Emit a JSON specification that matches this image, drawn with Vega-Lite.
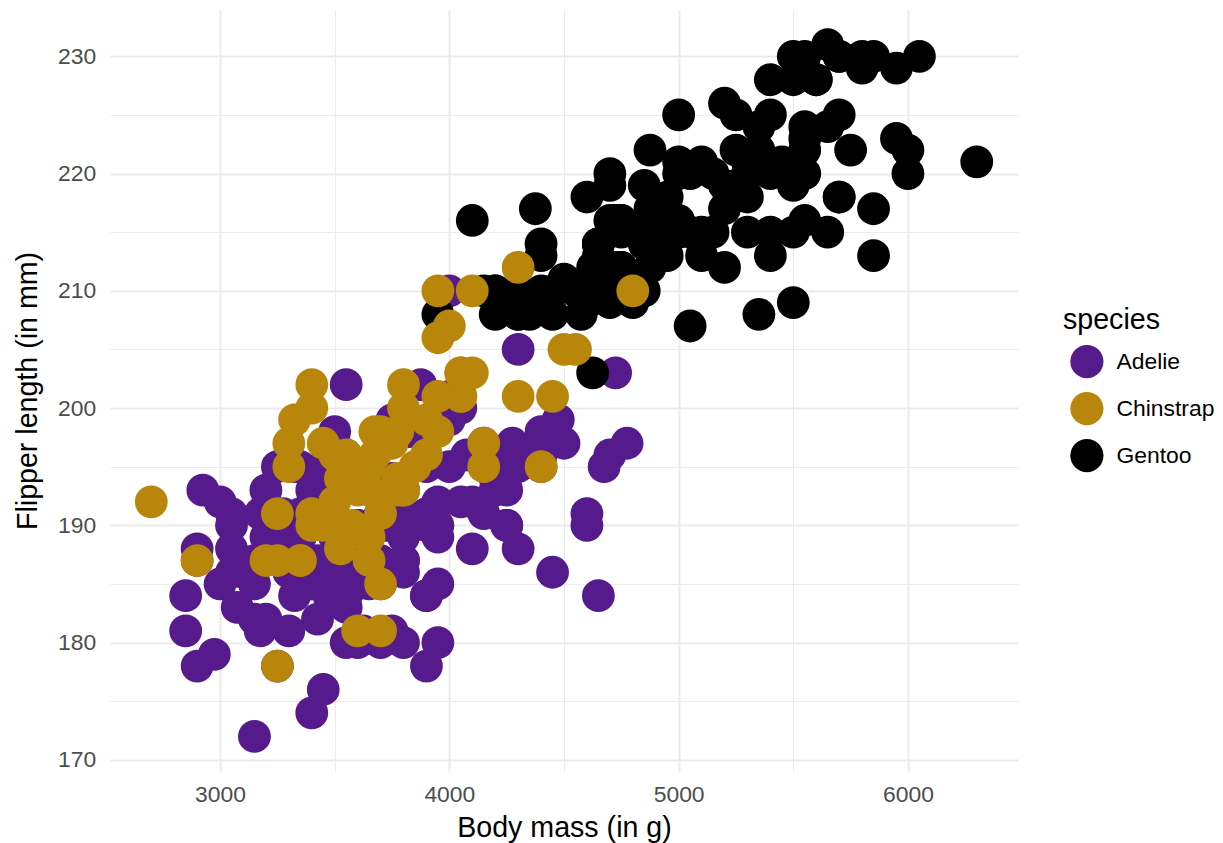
{
  "$schema": "https://vega.github.io/schema/vega-lite/v6.json",
  "autosize": "none",
  "width": 908,
  "height": 761,
  "padding": {"left": 110, "top": 10, "right": 205, "bottom": 72},
  "background": "white",
  "config": {
    "font": "Liberation Sans",
    "view": {"stroke": null},
    "axis": {
      "domain": false,
      "ticks": false,
      "tickSize": 0,
      "gridColor": "#EBEBEB",
      "labelFont": "Liberation Sans",
      "labelFontSize": 22.9,
      "labelColor": "#4D4D4D",
      "titleFont": "Liberation Sans",
      "titleFontSize": 28.6,
      "titleFontWeight": "normal",
      "titleColor": "#000000"
    }
  },
  "datasets": {
    "penguins": [
      {"species":"Adelie","mass":3750,"flipper":181},{"species":"Adelie","mass":3800,"flipper":186},{"species":"Adelie","mass":3250,"flipper":195},{"species":"Adelie","mass":3450,"flipper":193},{"species":"Adelie","mass":3650,"flipper":190},{"species":"Adelie","mass":3625,"flipper":181},{"species":"Adelie","mass":4675,"flipper":195},{"species":"Adelie","mass":3475,"flipper":193},{"species":"Adelie","mass":4250,"flipper":190},{"species":"Adelie","mass":3300,"flipper":186},
      {"species":"Adelie","mass":3700,"flipper":180},{"species":"Adelie","mass":3200,"flipper":182},{"species":"Adelie","mass":3800,"flipper":191},{"species":"Adelie","mass":4400,"flipper":198},{"species":"Adelie","mass":3700,"flipper":185},{"species":"Adelie","mass":3450,"flipper":195},{"species":"Adelie","mass":4500,"flipper":197},{"species":"Adelie","mass":3325,"flipper":184},{"species":"Adelie","mass":4200,"flipper":194},{"species":"Adelie","mass":3400,"flipper":174},
      {"species":"Adelie","mass":3600,"flipper":180},{"species":"Adelie","mass":3800,"flipper":189},{"species":"Adelie","mass":3950,"flipper":185},{"species":"Adelie","mass":3800,"flipper":180},{"species":"Adelie","mass":3800,"flipper":187},{"species":"Adelie","mass":3550,"flipper":183},{"species":"Adelie","mass":3200,"flipper":187},{"species":"Adelie","mass":3150,"flipper":172},{"species":"Adelie","mass":3950,"flipper":180},{"species":"Adelie","mass":3250,"flipper":178},
      {"species":"Adelie","mass":3900,"flipper":178},{"species":"Adelie","mass":3300,"flipper":188},{"species":"Adelie","mass":3900,"flipper":184},{"species":"Adelie","mass":3325,"flipper":195},{"species":"Adelie","mass":4150,"flipper":196},{"species":"Adelie","mass":3950,"flipper":190},{"species":"Adelie","mass":3550,"flipper":180},{"species":"Adelie","mass":3300,"flipper":181},{"species":"Adelie","mass":4650,"flipper":184},{"species":"Adelie","mass":3150,"flipper":182},
      {"species":"Adelie","mass":3900,"flipper":195},{"species":"Adelie","mass":3100,"flipper":186},{"species":"Adelie","mass":4400,"flipper":196},{"species":"Adelie","mass":3000,"flipper":185},{"species":"Adelie","mass":4600,"flipper":190},{"species":"Adelie","mass":3425,"flipper":182},{"species":"Adelie","mass":2975,"flipper":179},{"species":"Adelie","mass":3450,"flipper":190},{"species":"Adelie","mass":4150,"flipper":191},{"species":"Adelie","mass":3500,"flipper":186},
      {"species":"Adelie","mass":4300,"flipper":188},{"species":"Adelie","mass":3450,"flipper":190},{"species":"Adelie","mass":4050,"flipper":200},{"species":"Adelie","mass":2900,"flipper":187},{"species":"Adelie","mass":3700,"flipper":191},{"species":"Adelie","mass":3550,"flipper":186},{"species":"Adelie","mass":3800,"flipper":193},{"species":"Adelie","mass":2850,"flipper":181},{"species":"Adelie","mass":3750,"flipper":194},{"species":"Adelie","mass":3150,"flipper":185},
      {"species":"Adelie","mass":4400,"flipper":195},{"species":"Adelie","mass":3600,"flipper":185},{"species":"Adelie","mass":4050,"flipper":192},{"species":"Adelie","mass":2850,"flipper":184},{"species":"Adelie","mass":3950,"flipper":192},{"species":"Adelie","mass":3350,"flipper":195},{"species":"Adelie","mass":4100,"flipper":188},{"species":"Adelie","mass":3050,"flipper":190},{"species":"Adelie","mass":4450,"flipper":198},{"species":"Adelie","mass":3600,"flipper":190},
      {"species":"Adelie","mass":3900,"flipper":190},{"species":"Adelie","mass":3550,"flipper":196},{"species":"Adelie","mass":4150,"flipper":197},{"species":"Adelie","mass":3700,"flipper":190},{"species":"Adelie","mass":4250,"flipper":195},{"species":"Adelie","mass":3700,"flipper":191},{"species":"Adelie","mass":3900,"flipper":184},{"species":"Adelie","mass":3550,"flipper":187},{"species":"Adelie","mass":4000,"flipper":195},{"species":"Adelie","mass":3200,"flipper":189},
      {"species":"Adelie","mass":4700,"flipper":196},{"species":"Adelie","mass":3800,"flipper":187},{"species":"Adelie","mass":4200,"flipper":193},{"species":"Adelie","mass":3350,"flipper":191},{"species":"Adelie","mass":3550,"flipper":194},{"species":"Adelie","mass":3800,"flipper":190},{"species":"Adelie","mass":3500,"flipper":189},{"species":"Adelie","mass":3950,"flipper":189},{"species":"Adelie","mass":3600,"flipper":190},{"species":"Adelie","mass":3550,"flipper":202},
      {"species":"Adelie","mass":4300,"flipper":205},{"species":"Adelie","mass":3400,"flipper":185},{"species":"Adelie","mass":4450,"flipper":186},{"species":"Adelie","mass":3300,"flipper":187},{"species":"Adelie","mass":4300,"flipper":208},{"species":"Adelie","mass":3700,"flipper":190},{"species":"Adelie","mass":4350,"flipper":196},{"species":"Adelie","mass":2900,"flipper":178},{"species":"Adelie","mass":4100,"flipper":192},{"species":"Adelie","mass":3725,"flipper":192},
      {"species":"Adelie","mass":4725,"flipper":203},{"species":"Adelie","mass":3075,"flipper":183},{"species":"Adelie","mass":4250,"flipper":190},{"species":"Adelie","mass":2925,"flipper":193},{"species":"Adelie","mass":3550,"flipper":184},{"species":"Adelie","mass":3750,"flipper":199},{"species":"Adelie","mass":3900,"flipper":190},{"species":"Adelie","mass":3175,"flipper":181},{"species":"Adelie","mass":4775,"flipper":197},{"species":"Adelie","mass":3825,"flipper":198},
      {"species":"Adelie","mass":4600,"flipper":191},{"species":"Adelie","mass":3200,"flipper":193},{"species":"Adelie","mass":4275,"flipper":197},{"species":"Adelie","mass":3900,"flipper":191},{"species":"Adelie","mass":4075,"flipper":196},{"species":"Adelie","mass":2900,"flipper":188},{"species":"Adelie","mass":3775,"flipper":199},{"species":"Adelie","mass":3350,"flipper":189},{"species":"Adelie","mass":3325,"flipper":189},{"species":"Adelie","mass":3150,"flipper":187},
      {"species":"Adelie","mass":3500,"flipper":198},{"species":"Adelie","mass":3450,"flipper":176},{"species":"Adelie","mass":3875,"flipper":202},{"species":"Adelie","mass":3050,"flipper":186},{"species":"Adelie","mass":4000,"flipper":199},{"species":"Adelie","mass":3275,"flipper":191},{"species":"Adelie","mass":4300,"flipper":195},{"species":"Adelie","mass":3050,"flipper":191},{"species":"Adelie","mass":4000,"flipper":210},{"species":"Adelie","mass":3325,"flipper":190},
      {"species":"Adelie","mass":3500,"flipper":197},{"species":"Adelie","mass":3500,"flipper":193},{"species":"Adelie","mass":4475,"flipper":199},{"species":"Adelie","mass":3425,"flipper":187},{"species":"Adelie","mass":3900,"flipper":190},{"species":"Adelie","mass":3175,"flipper":191},{"species":"Adelie","mass":3975,"flipper":200},{"species":"Adelie","mass":3400,"flipper":185},{"species":"Adelie","mass":4250,"flipper":193},{"species":"Adelie","mass":3400,"flipper":193},
      {"species":"Adelie","mass":3475,"flipper":187},{"species":"Adelie","mass":3050,"flipper":188},{"species":"Adelie","mass":3725,"flipper":190},{"species":"Adelie","mass":3000,"flipper":192},{"species":"Adelie","mass":3650,"flipper":185},{"species":"Adelie","mass":4250,"flipper":190},{"species":"Adelie","mass":3475,"flipper":184},{"species":"Adelie","mass":3450,"flipper":195},{"species":"Adelie","mass":3750,"flipper":193},{"species":"Adelie","mass":3700,"flipper":187},
      {"species":"Adelie","mass":4000,"flipper":201},
      {"species":"Gentoo","mass":4500,"flipper":211},{"species":"Gentoo","mass":5700,"flipper":230},{"species":"Gentoo","mass":4450,"flipper":210},{"species":"Gentoo","mass":5700,"flipper":218},{"species":"Gentoo","mass":5400,"flipper":215},{"species":"Gentoo","mass":4550,"flipper":210},{"species":"Gentoo","mass":4800,"flipper":211},{"species":"Gentoo","mass":5200,"flipper":219},{"species":"Gentoo","mass":4400,"flipper":209},{"species":"Gentoo","mass":5150,"flipper":215},
      {"species":"Gentoo","mass":4650,"flipper":214},{"species":"Gentoo","mass":5550,"flipper":216},{"species":"Gentoo","mass":4650,"flipper":214},{"species":"Gentoo","mass":5850,"flipper":213},{"species":"Gentoo","mass":4200,"flipper":210},{"species":"Gentoo","mass":5850,"flipper":217},{"species":"Gentoo","mass":4150,"flipper":210},{"species":"Gentoo","mass":6300,"flipper":221},{"species":"Gentoo","mass":4800,"flipper":209},{"species":"Gentoo","mass":5350,"flipper":222},
      {"species":"Gentoo","mass":5700,"flipper":218},{"species":"Gentoo","mass":5000,"flipper":215},{"species":"Gentoo","mass":4400,"flipper":213},{"species":"Gentoo","mass":5050,"flipper":215},{"species":"Gentoo","mass":5000,"flipper":215},{"species":"Gentoo","mass":5100,"flipper":215},{"species":"Gentoo","mass":4100,"flipper":216},{"species":"Gentoo","mass":5650,"flipper":215},{"species":"Gentoo","mass":4600,"flipper":210},{"species":"Gentoo","mass":5550,"flipper":220},
      {"species":"Gentoo","mass":5250,"flipper":222},{"species":"Gentoo","mass":4700,"flipper":209},{"species":"Gentoo","mass":5050,"flipper":207},{"species":"Gentoo","mass":6050,"flipper":230},{"species":"Gentoo","mass":5150,"flipper":220},{"species":"Gentoo","mass":5400,"flipper":220},{"species":"Gentoo","mass":4950,"flipper":213},{"species":"Gentoo","mass":5250,"flipper":219},{"species":"Gentoo","mass":4350,"flipper":208},{"species":"Gentoo","mass":5350,"flipper":208},
      {"species":"Gentoo","mass":3950,"flipper":208},{"species":"Gentoo","mass":5700,"flipper":225},{"species":"Gentoo","mass":4300,"flipper":210},{"species":"Gentoo","mass":4750,"flipper":216},{"species":"Gentoo","mass":5550,"flipper":222},{"species":"Gentoo","mass":4900,"flipper":217},{"species":"Gentoo","mass":4200,"flipper":210},{"species":"Gentoo","mass":5400,"flipper":225},{"species":"Gentoo","mass":5100,"flipper":213},{"species":"Gentoo","mass":5300,"flipper":215},
      {"species":"Gentoo","mass":4850,"flipper":210},{"species":"Gentoo","mass":5300,"flipper":220},{"species":"Gentoo","mass":4400,"flipper":210},{"species":"Gentoo","mass":5000,"flipper":225},{"species":"Gentoo","mass":4900,"flipper":217},{"species":"Gentoo","mass":5050,"flipper":220},{"species":"Gentoo","mass":4300,"flipper":208},{"species":"Gentoo","mass":5000,"flipper":220},{"species":"Gentoo","mass":4450,"flipper":208},{"species":"Gentoo","mass":5550,"flipper":224},
      {"species":"Gentoo","mass":4200,"flipper":208},{"species":"Gentoo","mass":5300,"flipper":221},{"species":"Gentoo","mass":4400,"flipper":214},{"species":"Gentoo","mass":5650,"flipper":231},{"species":"Gentoo","mass":4700,"flipper":219},{"species":"Gentoo","mass":5700,"flipper":230},{"species":"Gentoo","mass":4650,"flipper":214},{"species":"Gentoo","mass":5800,"flipper":229},{"species":"Gentoo","mass":4700,"flipper":220},{"species":"Gentoo","mass":5550,"flipper":223},
      {"species":"Gentoo","mass":4750,"flipper":216},{"species":"Gentoo","mass":5000,"flipper":221},{"species":"Gentoo","mass":5100,"flipper":221},{"species":"Gentoo","mass":5200,"flipper":217},{"species":"Gentoo","mass":4700,"flipper":216},{"species":"Gentoo","mass":5800,"flipper":230},{"species":"Gentoo","mass":4600,"flipper":209},{"species":"Gentoo","mass":6000,"flipper":220},{"species":"Gentoo","mass":4750,"flipper":215},{"species":"Gentoo","mass":5950,"flipper":223},
      {"species":"Gentoo","mass":4625,"flipper":212},{"species":"Gentoo","mass":5450,"flipper":221},{"species":"Gentoo","mass":4725,"flipper":212},{"species":"Gentoo","mass":5350,"flipper":224},{"species":"Gentoo","mass":4750,"flipper":212},{"species":"Gentoo","mass":5600,"flipper":228},{"species":"Gentoo","mass":4600,"flipper":218},{"species":"Gentoo","mass":5300,"flipper":218},{"species":"Gentoo","mass":4875,"flipper":212},{"species":"Gentoo","mass":5550,"flipper":230},
      {"species":"Gentoo","mass":4950,"flipper":218},{"species":"Gentoo","mass":5400,"flipper":228},{"species":"Gentoo","mass":4750,"flipper":212},{"species":"Gentoo","mass":5650,"flipper":224},{"species":"Gentoo","mass":4850,"flipper":214},{"species":"Gentoo","mass":5200,"flipper":226},{"species":"Gentoo","mass":4925,"flipper":216},{"species":"Gentoo","mass":4875,"flipper":222},{"species":"Gentoo","mass":4625,"flipper":203},{"species":"Gentoo","mass":5250,"flipper":225},
      {"species":"Gentoo","mass":4850,"flipper":219},{"species":"Gentoo","mass":5600,"flipper":228},{"species":"Gentoo","mass":4975,"flipper":215},{"species":"Gentoo","mass":5500,"flipper":228},{"species":"Gentoo","mass":4725,"flipper":216},{"species":"Gentoo","mass":5500,"flipper":215},{"species":"Gentoo","mass":4700,"flipper":210},{"species":"Gentoo","mass":5500,"flipper":219},{"species":"Gentoo","mass":4575,"flipper":208},{"species":"Gentoo","mass":5500,"flipper":209},
      {"species":"Gentoo","mass":5000,"flipper":216},{"species":"Gentoo","mass":5950,"flipper":229},{"species":"Gentoo","mass":4650,"flipper":213},{"species":"Gentoo","mass":5500,"flipper":230},{"species":"Gentoo","mass":4375,"flipper":217},{"species":"Gentoo","mass":5850,"flipper":230},{"species":"Gentoo","mass":4875,"flipper":217},{"species":"Gentoo","mass":6000,"flipper":222},{"species":"Gentoo","mass":4925,"flipper":214},{"species":"Gentoo","mass":4850,"flipper":215},
      {"species":"Gentoo","mass":5750,"flipper":222},{"species":"Gentoo","mass":5200,"flipper":212},{"species":"Gentoo","mass":5400,"flipper":213},
      {"species":"Chinstrap","mass":3500,"flipper":192},{"species":"Chinstrap","mass":3900,"flipper":196},{"species":"Chinstrap","mass":3650,"flipper":193},{"species":"Chinstrap","mass":3525,"flipper":188},{"species":"Chinstrap","mass":3725,"flipper":197},{"species":"Chinstrap","mass":3950,"flipper":198},{"species":"Chinstrap","mass":3250,"flipper":178},{"species":"Chinstrap","mass":3750,"flipper":197},{"species":"Chinstrap","mass":4150,"flipper":195},{"species":"Chinstrap","mass":3700,"flipper":198},
      {"species":"Chinstrap","mass":3800,"flipper":193},{"species":"Chinstrap","mass":3775,"flipper":194},{"species":"Chinstrap","mass":3700,"flipper":185},{"species":"Chinstrap","mass":4050,"flipper":201},{"species":"Chinstrap","mass":3575,"flipper":190},{"species":"Chinstrap","mass":4050,"flipper":201},{"species":"Chinstrap","mass":3300,"flipper":197},{"species":"Chinstrap","mass":3700,"flipper":181},{"species":"Chinstrap","mass":3450,"flipper":190},{"species":"Chinstrap","mass":4400,"flipper":195},
      {"species":"Chinstrap","mass":3600,"flipper":181},{"species":"Chinstrap","mass":3400,"flipper":191},{"species":"Chinstrap","mass":2900,"flipper":187},{"species":"Chinstrap","mass":3800,"flipper":193},{"species":"Chinstrap","mass":3300,"flipper":195},{"species":"Chinstrap","mass":4150,"flipper":197},{"species":"Chinstrap","mass":3400,"flipper":200},{"species":"Chinstrap","mass":3800,"flipper":200},{"species":"Chinstrap","mass":3700,"flipper":191},{"species":"Chinstrap","mass":4550,"flipper":205},
      {"species":"Chinstrap","mass":3200,"flipper":187},{"species":"Chinstrap","mass":4300,"flipper":201},{"species":"Chinstrap","mass":3350,"flipper":187},{"species":"Chinstrap","mass":4100,"flipper":203},{"species":"Chinstrap","mass":3600,"flipper":195},{"species":"Chinstrap","mass":3900,"flipper":199},{"species":"Chinstrap","mass":3850,"flipper":195},{"species":"Chinstrap","mass":4800,"flipper":210},{"species":"Chinstrap","mass":2700,"flipper":192},{"species":"Chinstrap","mass":4500,"flipper":205},
      {"species":"Chinstrap","mass":3950,"flipper":210},{"species":"Chinstrap","mass":3650,"flipper":187},{"species":"Chinstrap","mass":3550,"flipper":196},{"species":"Chinstrap","mass":3500,"flipper":196},{"species":"Chinstrap","mass":3675,"flipper":196},{"species":"Chinstrap","mass":4450,"flipper":201},{"species":"Chinstrap","mass":3400,"flipper":190},{"species":"Chinstrap","mass":4300,"flipper":212},{"species":"Chinstrap","mass":3250,"flipper":187},{"species":"Chinstrap","mass":3675,"flipper":198},
      {"species":"Chinstrap","mass":3325,"flipper":199},{"species":"Chinstrap","mass":3950,"flipper":201},{"species":"Chinstrap","mass":3600,"flipper":193},{"species":"Chinstrap","mass":4050,"flipper":203},{"species":"Chinstrap","mass":3350,"flipper":187},{"species":"Chinstrap","mass":3450,"flipper":197},{"species":"Chinstrap","mass":3250,"flipper":191},{"species":"Chinstrap","mass":4050,"flipper":203},{"species":"Chinstrap","mass":3800,"flipper":202},{"species":"Chinstrap","mass":3525,"flipper":194},
      {"species":"Chinstrap","mass":3950,"flipper":206},{"species":"Chinstrap","mass":3650,"flipper":189},{"species":"Chinstrap","mass":3650,"flipper":195},{"species":"Chinstrap","mass":4000,"flipper":207},{"species":"Chinstrap","mass":3400,"flipper":202},{"species":"Chinstrap","mass":3775,"flipper":193},{"species":"Chinstrap","mass":4100,"flipper":210},{"species":"Chinstrap","mass":3775,"flipper":198}
    ]
  },
  "data": {"name": "penguins"},
  "mark": {"type": "point", "shape": "circle", "filled": true, "opacity": 1, "size": 1075, "strokeWidth": 0},
  "encoding": {
    "x": {
      "field": "mass", "type": "quantitative",
      "scale": {"domain": [2520, 6480], "nice": false, "zero": false},
      "axis": {
        "title": "Body mass (in g)",
        "values": [3000, 3500, 4000, 4500, 5000, 5500, 6000],
        "labelExpr": "datum.value % 1000 === 0 ? datum.label : ''",
        "format": "d",
        "gridWidth": {"condition": {"test": "datum.value % 1000 === 0", "value": 2}, "value": 1},
        "labelBaseline": "alphabetic",
        "labelPadding": 30.7,
        "titleBaseline": "alphabetic",
        "titleY": 65.5
      }
    },
    "y": {
      "field": "flipper", "type": "quantitative",
      "scale": {"domain": [169.05, 233.95], "nice": false, "zero": false},
      "axis": {
        "title": "Flipper length (in mm)",
        "values": [170, 175, 180, 185, 190, 195, 200, 205, 210, 215, 220, 225, 230],
        "labelExpr": "datum.value % 10 === 0 ? datum.label : ''",
        "gridWidth": {"condition": {"test": "datum.value % 10 === 0", "value": 2}, "value": 1},
        "labelPadding": 14.3,
        "titleBaseline": "alphabetic",
        "titleX": -73.3
      }
    },
    "color": {
      "field": "species", "type": "nominal",
      "scale": {"domain": ["Adelie", "Chinstrap", "Gentoo"], "range": ["#551A8B", "#B8860B", "#000000"]},
      "legend": {
        "title": "species",
        "orient": "none",
        "legendX": 953,
        "legendY": 295.5,
        "padding": 0,
        "titleFont": "Liberation Sans",
        "titleFontSize": 28.6,
        "titleFontWeight": "normal",
        "titleColor": "#000000",
        "titlePadding": 10.5,
        "labelFont": "Liberation Sans",
        "labelFontSize": 22.9,
        "labelColor": "#000000",
        "labelOffset": 12.5,
        "symbolType": "circle",
        "symbolSize": 1100,
        "symbolOffset": 6.9,
        "symbolStrokeWidth": 0,
        "symbolOpacity": 1,
        "rowPadding": 13
      }
    }
  }
}
